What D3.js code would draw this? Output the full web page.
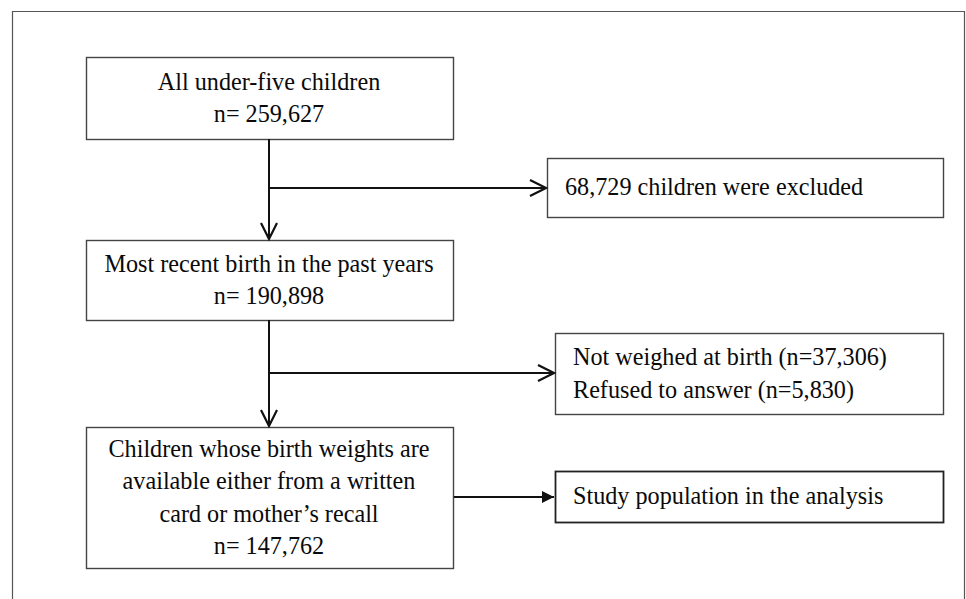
<!DOCTYPE html>
<html>
<head>
<meta charset="utf-8">
<script src="https://cdn.jsdelivr.net/npm/d3@7"></script>
<style>
  html, body { margin: 0; padding: 0; background: #fff; }
  svg { display: block; }
  text { font-family: "Liberation Serif", "Times New Roman", serif; fill: #0a0a0a; }
</style>
</head>
<body>
<svg id="chart" width="966" height="599"></svg>
<script>
// ---- data ----
const mainLabels = [
  ["All under-five children"],
  ["Most recent birth in the past years"],
  ["Children whose birth weights are", "available either from a written", "card or mother\u2019s recall"]
];
const mainCounts = ["259,627", "190,898", "147,762"];
const sideLabels = [
  ["68,729 children were excluded"],
  ["Not weighed at birth (n=37,306)", "Refused to answer (n=5,830)"],
  ["Study population in the analysis"]
];

// ---- layout (pixel geometry, separate from data) ----
const W = 966, H = 599;
const svg = d3.select("#chart");
const fontSize = 24.2, lineH = 32.5;

// main column boxes: [top, bottom]
const mainY = [[57, 139], [240, 320], [427, 568]];
const mainX = [86, 453];
// side boxes: [left, top, bottom]
const sideBox = [[547, 158, 217], [555, 333, 414], [555, 471, 522]];
const sideRight = 943;
const branchY = [188, 373, 497];

// outer frame
svg.append("path")
  .attr("d", `M12.5,${H} L12.5,11.5 L${W-1.5},11.5 L${W-1.5},${H}`)
  .attr("fill", "none").attr("stroke", "#555").attr("stroke-width", 1.2);

// markers
const defs = svg.append("defs");
defs.append("marker").attr("id", "open").attr("viewBox", "0 0 20 20")
  .attr("refX", 18).attr("refY", 10).attr("markerWidth", 20).attr("markerHeight", 20)
  .attr("markerUnits", "userSpaceOnUse").attr("orient", "auto")
  .append("path").attr("d", "M2,2 L18,10 L2,18").attr("fill", "none")
  .attr("stroke", "#111").attr("stroke-width", 2.2);
defs.append("marker").attr("id", "filled").attr("viewBox", "0 0 20 20")
  .attr("refX", 18).attr("refY", 10).attr("markerWidth", 20).attr("markerHeight", 20)
  .attr("markerUnits", "userSpaceOnUse").attr("orient", "auto")
  .append("path").attr("d", "M6,4 L18,10 L6,16 Z").attr("fill", "#111");

const cx = (mainX[0] + mainX[1]) / 2 - 0.5;

// main boxes
mainLabels.forEach((lines, i) => {
  const [y0, y1] = mainY[i];
  svg.append("rect").attr("x", mainX[0] + 0.5).attr("y", y0 + 0.5)
    .attr("width", mainX[1] - mainX[0]).attr("height", y1 - y0)
    .attr("fill", "#fff").attr("stroke", "#444").attr("stroke-width", 1.4);
  const all = lines.concat(["n= " + mainCounts[i]]);
  const total = (all.length - 1) * lineH;
  const mid = (y0 + y1) / 2;
  all.forEach((t, j) => {
    svg.append("text").attr("x", cx).attr("y", mid - total / 2 + j * lineH)
      .attr("dy", "0.33em").attr("text-anchor", "middle")
      .attr("font-size", fontSize).text(t);
  });
});

// vertical connectors with open arrows
for (let i = 0; i < 2; i++) {
  svg.append("line").attr("x1", cx).attr("y1", mainY[i][1])
    .attr("x2", cx).attr("y2", mainY[i + 1][0] - 1)
    .attr("stroke", "#111").attr("stroke-width", 2)
    .attr("marker-end", "url(#open)");
}

// side boxes
sideLabels.forEach((lines, i) => {
  const [x0, y0, y1] = sideBox[i];
  svg.append("rect").attr("x", x0 + 0.5).attr("y", y0 + 0.5)
    .attr("width", sideRight - x0).attr("height", y1 - y0)
    .attr("fill", "#fff").attr("stroke", i === 2 ? "#222" : "#444")
    .attr("stroke-width", i === 2 ? 1.8 : 1.4);
  const total = (lines.length - 1) * lineH;
  const mid = i === 0 ? branchY[0] - 1 : (y0 + y1) / 2;
  lines.forEach((t, j) => {
    svg.append("text").attr("x", x0 + 18).attr("y", mid - total / 2 + j * lineH)
      .attr("dy", "0.33em").attr("font-size", fontSize).text(t);
  });
  // horizontal connector
  const startX = i < 2 ? cx : mainX[1] + 1;
  svg.append("line").attr("x1", startX).attr("y1", branchY[i])
    .attr("x2", x0 - 1).attr("y2", branchY[i])
    .attr("stroke", "#111").attr("stroke-width", 2)
    .attr("marker-end", i < 2 ? "url(#open)" : "url(#filled)");
});
</script>
</body>
</html>
